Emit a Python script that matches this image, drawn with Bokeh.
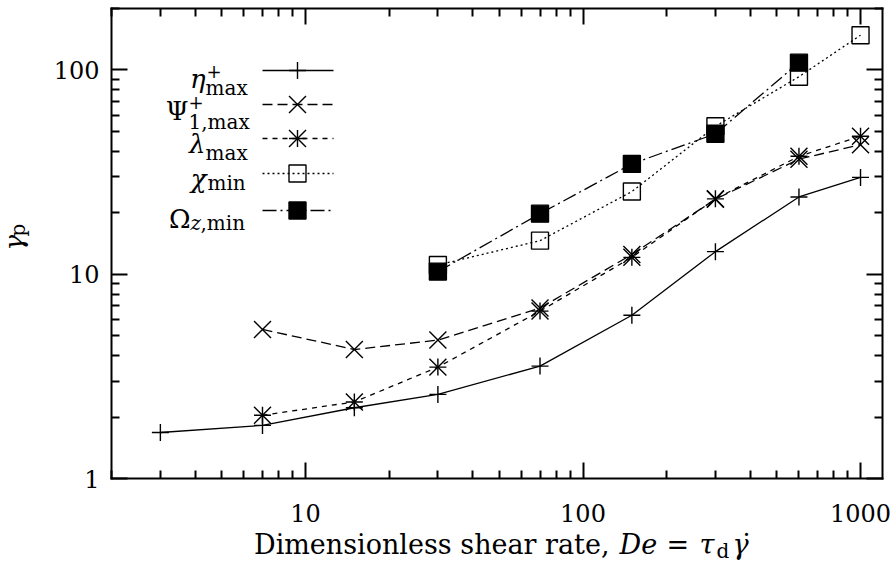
import math

from bokeh.embed import file_html
from bokeh.models import FixedTicker, Label, LogAxis, PrintfTickFormatter, Range1d
from bokeh.plotting import figure
from bokeh.resources import INLINE

# ---- data -----------------------------------------------------------------
de_eta = [3, 7, 15, 30, 70, 150, 300, 600, 1000]
eta_max = [1.68, 1.82, 2.22, 2.58, 3.55, 6.3, 12.9, 23.9, 29.8]

de_psi = [7, 15, 30, 70, 150, 300, 600, 1000]
psi1_max = [5.37, 4.28, 4.76, 6.83, 12.5, 23.3, 36.6, 43.1]

de_lambda = [7, 15, 30, 70, 150, 300, 600, 1000]
lambda_max = [2.04, 2.37, 3.51, 6.6, 12.1, 23.4, 37.8, 47.4]

de_chi = [30, 70, 150, 300, 600, 1000]
chi_min = [11.1, 14.6, 25.4, 53.0, 92.7, 148]

de_omega = [30, 70, 150, 300, 600]
omega_min = [10.3, 19.8, 34.7, 48.7, 108.6]

x_major_ticks = [10, 100, 1000]
y_major_ticks = [1, 10, 100]

# ---- layout ---------------------------------------------------------------
W, H = 894, 562
LEFT, RIGHT, TOP, BOTTOM = 111, 882, 8, 478      # plot box edges (canvas px)
X_RANGE = (2, 1200)                              # data limits of the plot box
Y_RANGE = (1, 200)
FONT = "DejaVu Serif"
TICK_SIZE = "24px"
TITLE = "27px"
BIG, SMALL, SUP = "26px", "20px", "18px"


def to_data(sx, sy):
    """Canvas pixel position -> data coordinates on the log/log scales."""
    lx0, lx1 = math.log10(X_RANGE[0]), math.log10(X_RANGE[1])
    ly0, ly1 = math.log10(Y_RANGE[0]), math.log10(Y_RANGE[1])
    fx = (sx - LEFT) / (RIGHT - LEFT)
    fy = (BOTTOM - sy) / (BOTTOM - TOP)
    return 10 ** (lx0 + fx * (lx1 - lx0)), 10 ** (ly0 + fy * (ly1 - ly0))


def minor_ticks(lo_exp, hi_exp):
    return [m * 10 ** e for e in range(lo_exp, hi_exp + 1) for m in range(2, 10)]


# The frame fills the whole canvas; the box axes are pinned at the data limits
# so that titles and key texts around the box stay inside the drawable area.
cx0, cy1 = to_data(0, 0)
cx1, cy0 = to_data(W, H)

p = figure(
    width=W, height=H,
    x_axis_type="log", y_axis_type="log",
    x_range=Range1d(cx0, cx1), y_range=Range1d(cy0, cy1),
    output_backend="svg", toolbar_location=None,
    min_border_left=0, min_border_right=0,
    min_border_top=0, min_border_bottom=0,
)
p.grid.visible = False
p.outline_line_color = None
p.background_fill_color = "white"
p.border_fill_color = "white"

x_ticker = FixedTicker(ticks=x_major_ticks, minor_ticks=minor_ticks(0, 3))
y_ticker = FixedTicker(ticks=y_major_ticks, minor_ticks=minor_ticks(0, 2))

p.add_layout(LogAxis(), "above")
p.add_layout(LogAxis(), "right")


def style_axis(ax, ticker, bounds, location, standoff):
    ax.ticker = ticker
    ax.bounds = bounds
    ax.fixed_location = location
    ax.axis_line_width = 2
    ax.axis_line_color = "black"
    ax.axis_line_cap = "square"
    ax.major_tick_in = 16
    ax.major_tick_out = 0
    ax.minor_tick_in = 8
    ax.minor_tick_out = 0
    ax.major_tick_line_width = 2
    ax.minor_tick_line_width = 2
    ax.major_tick_line_color = "black"
    ax.minor_tick_line_color = "black"
    ax.formatter = PrintfTickFormatter(format="%d")
    if standoff is not None:
        ax.major_label_text_font = FONT
        ax.major_label_text_font_size = TICK_SIZE
        ax.major_label_text_color = "black"
        ax.major_label_standoff = standoff
    else:
        ax.major_label_text_font_size = "0px"
        ax.major_label_text_color = None
        ax.major_label_standoff = 0


for ax in p.below:
    style_axis(ax, x_ticker, X_RANGE, Y_RANGE[0], 25)
for ax in p.above:
    style_axis(ax, x_ticker, X_RANGE, Y_RANGE[1], None)
for ax in p.left:
    style_axis(ax, y_ticker, Y_RANGE, X_RANGE[0], 12)
for ax in p.right:
    style_axis(ax, y_ticker, Y_RANGE, X_RANGE[1], None)

# ---- series ---------------------------------------------------------------
# the asterisk is a plus and a cross laid over each other
series = [
    dict(x=de_eta, y=eta_max, dash="solid", marks=[("cross", 17)], fill=None),
    dict(x=de_psi, y=psi1_max, dash="10 5", marks=[("x", 24)], fill=None),
    dict(x=de_lambda, y=lambda_max, dash="5 5", marks=[("cross", 17), ("x", 24)], fill=None),
    dict(x=de_chi, y=chi_min, dash="2 3", marks=[("square", 17)], fill=None),
    dict(x=de_omega, y=omega_min, dash="14 4 2 4", marks=[("square", 17)], fill="black"),
]

LINE_W = 1.3
MARK_W = 1.4


def draw_marks(s, xs, ys):
    for marker, size in s["marks"]:
        p.scatter(xs, ys, marker=marker, size=size,
                  line_color="black", line_width=MARK_W, fill_color=s["fill"])


for s in series:
    p.line(s["x"], s["y"], line_color="black", line_width=LINE_W, line_dash=s["dash"])
    draw_marks(s, s["x"], s["y"])

# ---- key (labels on the left, samples on the right) -----------------------
key_rows_y = [70, 104, 138, 173, 210]
SAMPLE_X0, SAMPLE_X1, SAMPLE_MID = 262, 333, 297

for s, ry in zip(series, key_rows_y):
    (x0, yk), (x1, _) = to_data(SAMPLE_X0, ry), to_data(SAMPLE_X1, ry)
    xm, _ = to_data(SAMPLE_MID, ry)
    p.line([x0, x1], [yk, yk], line_color="black", line_width=LINE_W, line_dash=s["dash"])
    draw_marks(s, [xm], [yk])


def put(text, sx, sy, size=BIG, align="left", style="normal", angle=0.0):
    x, y = to_data(sx, sy)
    p.add_layout(Label(
        x=x, y=y, text=text, text_font=FONT, text_font_size=size,
        text_font_style=style, text_align=align, text_baseline="alphabetic",
        text_color="black", angle=angle,
    ))


# eta^+_max
put("η", 205, 78, style="italic", align="right")
put("+", 206, 70, size=SUP)
put("max", 205, 87, size=SMALL)
# Psi^+_{1,max}
put("Ψ", 188, 110, align="right")
put("+", 188, 101, size=SUP)
put("1,max", 188, 121, size=SMALL)
# lambda_max
put("λ", 205, 143, style="italic", align="right")
put("max", 205, 152, size=SMALL)
# chi_min
put("χ", 206, 178, style="italic", align="right")
put("min", 207, 182, size=SMALL)
# Omega_{z,min}
put("Ω", 190, 218, align="right")
put("z", 190, 222, size=SMALL, style="italic")
put(",min", 200, 222, size=SMALL)

# ---- axis titles ----------------------------------------------------------
put("Dimensionless shear rate,", 609, 544, size=TITLE, align="right")
put("De", 619, 544, size=TITLE, style="italic")
put("=", 666, 544, size=TITLE)
put("τ", 699, 544, size=TITLE, style="italic")
put("d", 716, 550, size=SMALL)
put("γ", 732, 544, size=TITLE, style="italic")
put("˙", 746, 544, size=TITLE, align="center")

put("γ", 13, 250, style="italic", angle=math.pi / 2)
put("p", 17, 236, size=SMALL, angle=math.pi / 2)

open("out.html", "w").write(file_html(p, INLINE))
